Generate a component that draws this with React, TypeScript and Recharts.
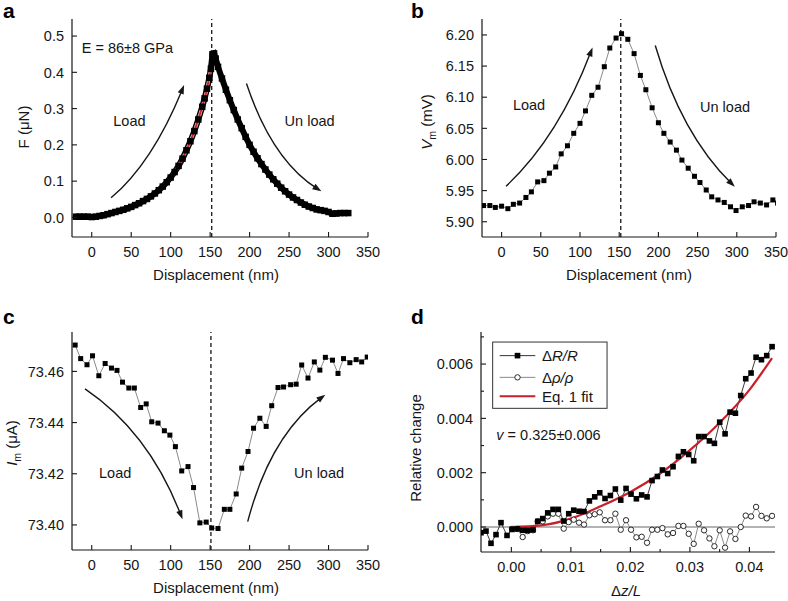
import React from 'react';
import { ComposedChart, Line, XAxis, YAxis, ReferenceLine } from 'recharts';

const FONT = '"Liberation Sans", Arial, Helvetica, sans-serif';
const INK = '#161616';

// ---------------- data: panel a ----------------
const aDisp = [-20, -15, -10, -5, 0, 5, 10, 15, 20, 25, 30, 35, 40, 45, 50, 55, 60, 65, 70, 75, 80, 85, 90, 95, 100, 105, 110, 115, 120, 125, 130, 135, 140, 143, 146, 149, 151, 153, 155, 157, 160, 165, 170, 175, 180, 185, 190, 195, 200, 205, 210, 215, 220, 225, 230, 235, 240, 245, 250, 255, 260, 265, 270, 275, 280, 285, 290, 295, 300, 305, 310, 315, 320, 325];
const aForce = [0.002, 0.002, 0.002, 0.002, 0.001, 0.002, 0.004, 0.006, 0.009, 0.012, 0.015, 0.018, 0.021, 0.025, 0.029, 0.034, 0.039, 0.045, 0.051, 0.058, 0.066, 0.075, 0.085, 0.097, 0.110, 0.125, 0.142, 0.162, 0.185, 0.210, 0.238, 0.270, 0.305, 0.328, 0.355, 0.385, 0.410, 0.450, 0.452, 0.438, 0.415, 0.383, 0.352, 0.323, 0.296, 0.270, 0.246, 0.222, 0.200, 0.181, 0.163, 0.147, 0.132, 0.118, 0.105, 0.093, 0.082, 0.072, 0.063, 0.055, 0.048, 0.041, 0.035, 0.030, 0.026, 0.022, 0.020, 0.018, 0.015, 0.010, 0.011, 0.012, 0.012, 0.012];
const aFitDisp = [0, 10, 20, 30, 40, 50, 60, 70, 80, 90, 100, 110, 120, 130, 140, 145, 150];
const aFitForce = [0.000, 0.004, 0.009, 0.015, 0.021, 0.029, 0.039, 0.051, 0.066, 0.085, 0.110, 0.142, 0.185, 0.238, 0.305, 0.345, 0.400];

// ---------------- data: panel b ----------------
const bDisp = [-23, -15, -8, 0, 8, 15, 23, 31, 38, 46, 54, 61, 69, 76, 84, 92, 100, 107, 115, 123, 131, 138, 146, 153, 161, 169, 177, 184, 192, 200, 207, 215, 223, 230, 238, 246, 253, 261, 268, 276, 284, 292, 299, 307, 315, 322, 330, 338, 346, 352];
const bVm = [5.926, 5.926, 5.923, 5.925, 5.921, 5.928, 5.930, 5.939, 5.948, 5.964, 5.966, 5.978, 5.988, 6.009, 6.022, 6.042, 6.058, 6.078, 6.103, 6.116, 6.149, 6.179, 6.195, 6.202, 6.193, 6.170, 6.135, 6.112, 6.083, 6.059, 6.042, 6.028, 6.015, 5.999, 5.986, 5.973, 5.963, 5.951, 5.940, 5.935, 5.931, 5.924, 5.918, 5.924, 5.926, 5.932, 5.930, 5.927, 5.935, 5.930];

// ---------------- data: panel c ----------------
const cDisp = [-21, -14, -6, 1, 9, 17, 25, 32, 39, 47, 54, 62, 69, 76, 84, 92, 99, 106, 114, 122, 129, 137, 145, 152, 160, 168, 175, 183, 190, 198, 205, 213, 221, 228, 236, 243, 252, 259, 266, 274, 282, 289, 296, 305, 312, 319, 327, 335, 342, 349];
const cIm = [73.4703, 73.4650, 73.4626, 73.4661, 73.4583, 73.4631, 73.4613, 73.4604, 73.4558, 73.4535, 73.4535, 73.4459, 73.4473, 73.4403, 73.4398, 73.4368, 73.4351, 73.4306, 73.4211, 73.4228, 73.4146, 73.4008, 73.4011, 73.3988, 73.3986, 73.4061, 73.4061, 73.4121, 73.4222, 73.4287, 73.4378, 73.4417, 73.4385, 73.4466, 73.4537, 73.4539, 73.4548, 73.4550, 73.4625, 73.4574, 73.4637, 73.4605, 73.4655, 73.4644, 73.4592, 73.4650, 73.4634, 73.4646, 73.4637, 73.4656];

// ---------------- data: panel d ----------------
const dStrain = [-0.00510, -0.00426, -0.00342, -0.00258, -0.00174, -0.00073, 0.00011, 0.00101, 0.00190, 0.00275, 0.00364, 0.00443, 0.00527, 0.00611, 0.00700, 0.00790, 0.00880, 0.00964, 0.01048, 0.01137, 0.01221, 0.01311, 0.01401, 0.01485, 0.01574, 0.01664, 0.01748, 0.01838, 0.01927, 0.02011, 0.02101, 0.02190, 0.02280, 0.02364, 0.02454, 0.02538, 0.02627, 0.02717, 0.02807, 0.02891, 0.02980, 0.03064, 0.03148, 0.03238, 0.03328, 0.03412, 0.03501, 0.03591, 0.03675, 0.03765, 0.03854, 0.03938, 0.04028, 0.04112, 0.04202, 0.04291, 0.04381];
const dDeltaR = [-0.00021, -0.00015, -0.00060, -0.00028, 0.00016, -0.00031, -0.00009, -0.00007, -0.00012, -0.00012, -0.00010, 0.00021, 0.00031, 0.00052, 0.00065, 0.00065, 0.00022, 0.00049, 0.00062, 0.00058, 0.00057, 0.00096, 0.00111, 0.00126, 0.00105, 0.00116, 0.00140, 0.00099, 0.00142, 0.00121, 0.00104, 0.00118, 0.00111, 0.00171, 0.00186, 0.00210, 0.00197, 0.00222, 0.00260, 0.00277, 0.00267, 0.00244, 0.00333, 0.00333, 0.00317, 0.00308, 0.00386, 0.00343, 0.00423, 0.00419, 0.00484, 0.00546, 0.00567, 0.00625, 0.00616, 0.00631, 0.00664];
const dStrainRho = [0.00011, 0.00101, 0.00190, 0.00275, 0.00364, 0.00443, 0.00527, 0.00611, 0.00700, 0.00790, 0.00880, 0.00964, 0.01048, 0.01137, 0.01221, 0.01311, 0.01401, 0.01485, 0.01574, 0.01664, 0.01748, 0.01838, 0.01927, 0.02011, 0.02101, 0.02190, 0.02280, 0.02364, 0.02454, 0.02538, 0.02627, 0.02717, 0.02807, 0.02891, 0.02980, 0.03064, 0.03148, 0.03238, 0.03328, 0.03412, 0.03501, 0.03591, 0.03675, 0.03765, 0.03854, 0.03938, 0.04028, 0.04112, 0.04202, 0.04291, 0.04381];
const dDeltaRho = [-0.00007, -0.00007, -0.00037, -0.00015, -0.00012, 0.00021, 0.00021, 0.00039, 0.00049, 0.00049, -0.00006, 0.00018, 0.00027, 0.00016, 0.00009, 0.00043, 0.00047, 0.00054, 0.00025, 0.00025, 0.00049, -0.00010, 0.00025, -0.00010, -0.00038, -0.00036, -0.00058, -0.00010, -0.00010, -0.00004, -0.00027, -0.00022, 0.00004, 0.00004, -0.00025, -0.00062, 0.00012, -0.00012, -0.00042, -0.00071, -0.00012, -0.00076, -0.00016, -0.00044, 0.00000, 0.00042, 0.00039, 0.00074, 0.00041, 0.00032, 0.00041];
const dFitStrain = [0.000, 0.005, 0.010, 0.015, 0.020, 0.025, 0.030, 0.035, 0.040, 0.0438];
const dFitValue = [0.00000, 0.00006, 0.00031, 0.00076, 0.00129, 0.00197, 0.00283, 0.00384, 0.00505, 0.00622];

// ---------------- ticks ----------------
const dispTicks = [0, 50, 100, 150, 200, 250, 300, 350];
const aForceTicks = [0, 0.1, 0.2, 0.3, 0.4, 0.5];
const bVmTicks = [5.90, 5.95, 6.00, 6.05, 6.10, 6.15, 6.20];
const cImTicks = [73.40, 73.42, 73.44, 73.46];
const dStrainMajor = [0, 0.01, 0.02, 0.03, 0.04];
const dStrainAll = [0, 0.005, 0.01, 0.015, 0.02, 0.025, 0.03, 0.035, 0.04];
const dRelMajor = [0, 0.002, 0.004, 0.006];
const dRelAll = [0, 0.001, 0.002, 0.003, 0.004, 0.005, 0.006, 0.007];

const rows = (xs: number[], ys: number[]) => xs.map((x, i) => ({ x, y: ys[i] }));

type Box = { x: number; y: number; w: number; h: number };
type Frame = { l: number; r: number; t: number; b: number };

const AXIS = { stroke: INK, strokeWidth: 1.2 };

const makeTick = (side: string, majors: number[], fmt: ((v: number) => string) | null, gap: number) => (props: any) => {
  const { x, y, payload, index } = props;
  const v = payload.value;
  const major = majors.some((m) => Math.abs(m - v) < 1e-9);
  const len = major ? 5 : 3;
  const k = `t-${side}-${index}`;
  const txt = { fontFamily: FONT, fontSize: 14.5, fill: INK } as any;
  if (side === 'bottom') {
    const ay = y - gap;
    return (
      <g key={k}>
        <line x1={x} x2={x} y1={ay} y2={ay - len} stroke={INK} strokeWidth={1.1} />
        {major && fmt ? <text x={x} y={y} dy="0.71em" textAnchor="middle" {...txt}>{fmt(v)}</text> : null}
      </g>
    );
  }
  if (side === 'top') {
    return <g key={k}><line x1={x} x2={x} y1={y} y2={y + len} stroke={INK} strokeWidth={1.1} /></g>;
  }
  if (side === 'left') {
    const ax = x + gap;
    return (
      <g key={k}>
        <line x1={ax} x2={ax + len} y1={y} y2={y} stroke={INK} strokeWidth={1.1} />
        {major && fmt ? <text x={x} y={y} dy="0.36em" textAnchor="end" {...txt}>{fmt(v)}</text> : null}
      </g>
    );
  }
  return <g key={k}><line x1={x} x2={x - len} y1={y} y2={y} stroke={INK} strokeWidth={1.1} /></g>;
};

const squareDot = (size: number, fill: string) => (p: any) => {
  const key = `sq-${p.index}`;
  if (p.cx == null || p.cy == null) return <g key={key} />;
  return <rect key={key} x={p.cx - size / 2} y={p.cy - size / 2} width={size} height={size} fill={fill} />;
};
const circleDot = (p: any) => {
  const key = `ci-${p.index}`;
  if (p.cx == null || p.cy == null) return <g key={key} />;
  return <circle key={key} cx={p.cx} cy={p.cy} r={2.7} fill="#fff" stroke="#2a2a2a" strokeWidth={1} />;
};

const mapper = (box: Box, frame: Frame, xd: number[], yd: number[]) => ({
  px: (v: number) => frame.l - box.x + ((v - xd[0]) / (xd[1] - xd[0])) * (frame.r - frame.l),
  py: (v: number) => frame.t - box.y + ((yd[1] - v) / (yd[1] - yd[0])) * (frame.b - frame.t),
});

type Mapper = ReturnType<typeof mapper>;

function Arrow({ m, p0, pm, p1 }: { m: Mapper; p0: number[]; pm: number[]; p1: number[] }) {
  const a = [m.px(p0[0]), m.py(p0[1])];
  const mid = [m.px(pm[0]), m.py(pm[1])];
  const b = [m.px(p1[0]), m.py(p1[1])];
  const c = [2 * mid[0] - (a[0] + b[0]) / 2, 2 * mid[1] - (a[1] + b[1]) / 2];
  let dx = b[0] - c[0];
  let dy = b[1] - c[1];
  const n = Math.hypot(dx, dy) || 1;
  dx /= n; dy /= n;
  const hl = 9, hw = 3.2;
  const base = [b[0] - dx * hl, b[1] - dy * hl];
  const endLine = [b[0] - dx * 5, b[1] - dy * 5];
  const head = `M${b[0]},${b[1]} L${base[0] - dy * hw},${base[1] + dx * hw} L${base[0] + dy * hw},${base[1] - dx * hw} Z`;
  return (
    <g>
      <path d={`M${a[0]},${a[1]} Q${c[0]},${c[1]} ${endLine[0]},${endLine[1]}`} fill="none" stroke={INK} strokeWidth={1.4} />
      <path d={head} fill={INK} />
    </g>
  );
}

const TXT = { fontFamily: FONT, fontSize: 14.5, fill: INK } as any;

function Panel(props: {
  box: Box; frame: Frame; xd: number[]; yd: number[];
  xTicks: number[]; xMajors: number[]; xFmt: (v: number) => string;
  yTicks: number[]; yMajors: number[]; yFmt: (v: number) => string;
  children: React.ReactNode; overlay: React.ReactNode;
}) {
  const { box, frame, xd, yd } = props;
  const margin = { top: frame.t - box.y, right: box.x + box.w - frame.r, left: 0, bottom: 0 };
  const yW = frame.l - box.x;
  const xH = box.y + box.h - frame.b;
  return (
    <div style={{ position: 'absolute', left: box.x, top: box.y, width: box.w, height: box.h }}>
      <ComposedChart width={box.w} height={box.h} margin={margin}>
        <XAxis type="number" dataKey="x" domain={xd} allowDataOverflow ticks={props.xTicks} interval={0}
          height={xH} tickSize={0} tickMargin={10} tickLine={false} axisLine={AXIS}
          tick={makeTick('bottom', props.xMajors, props.xFmt, 10)} />
        <XAxis xAxisId="top" orientation="top" type="number" domain={xd} allowDataOverflow ticks={props.xTicks} interval={0}
          height={0} tickSize={0} tickMargin={0} tickLine={false} axisLine={AXIS}
          tick={makeTick('top', props.xMajors, null, 0)} />
        <YAxis type="number" domain={yd} allowDataOverflow ticks={props.yTicks} interval={0}
          width={yW} tickSize={0} tickMargin={8} tickLine={false} axisLine={AXIS}
          tick={makeTick('left', props.yMajors, props.yFmt, 8)} />
        <YAxis yAxisId="right" orientation="right" type="number" domain={yd} allowDataOverflow ticks={props.yTicks} interval={0}
          width={0} tickSize={0} tickMargin={0} tickLine={false} axisLine={AXIS}
          tick={makeTick('right', props.yMajors, null, 0)} />
        {props.children}
      </ComposedChart>
      <svg width={box.w} height={box.h} style={{ position: 'absolute', left: 0, top: 0, pointerEvents: 'none' }}>
        {props.overlay}
      </svg>
    </div>
  );
}

const fmtInt = (v: number) => String(Math.round(v));

// ---------- layout ----------
const boxA: Box = { x: 0, y: 0, w: 394, h: 300 };
const frameA: Frame = { l: 72, r: 368, t: 19, b: 237 };
const boxB: Box = { x: 394, y: 0, w: 394, h: 300 };
const frameB: Frame = { l: 482, r: 776, t: 19, b: 237 };
const boxC: Box = { x: 0, y: 300, w: 394, h: 301 };
const frameC: Frame = { l: 72, r: 368, t: 332, b: 550 };
const boxD: Box = { x: 394, y: 300, w: 394, h: 301 };
const frameD: Frame = { l: 481, r: 775, t: 332, b: 552 };

const xdDisp = [-25, 350];
const ydA = [-0.054, 0.547];
const ydB = [5.8755, 6.2256];
const ydC = [73.3902, 73.4754];
const xdD = [-0.0051, 0.0443];
const ydD = [-0.00092, 0.00718];

const letterStyle = { fontFamily: FONT, fontSize: 21, fontWeight: 700, fill: '#000' } as any;
const titleStyle = { fontFamily: FONT, fontSize: 15, fill: INK } as any;

function PanelA() {
  const m = mapper(boxA, frameA, xdDisp, ydA);
  const overlay = (
    <g>
      <text x={3} y={18} {...letterStyle}>a</text>
      <text transform="rotate(-90 24 127)" x={24} y={127} dy="0.36em" textAnchor="middle" {...titleStyle}>F (μN)</text>
      <text x={216} y={275} dy="0.36em" textAnchor="middle" {...titleStyle}>Displacement (nm)</text>
      <text x={m.px(-12.7)} y={m.py(0.468)} dy="0.36em" {...TXT}>E = 86±8 GPa</text>
      <text x={m.px(47.7)} y={m.py(0.266)} dy="0.36em" textAnchor="middle" {...TXT}>Load</text>
      <text x={m.px(276)} y={m.py(0.266)} dy="0.36em" textAnchor="middle" {...TXT}>Un load</text>
      <Arrow m={m} p0={[24.5, 0.054]} pm={[73.8, 0.180]} p1={[117, 0.365]} />
      <Arrow m={m} p0={[196, 0.369]} pm={[236, 0.189]} p1={[291, 0.072]} />
    </g>
  );
  return (
    <Panel box={boxA} frame={frameA} xd={xdDisp} yd={ydA}
      xTicks={dispTicks} xMajors={dispTicks} xFmt={fmtInt}
      yTicks={aForceTicks} yMajors={aForceTicks} yFmt={(v) => v.toFixed(1)} overlay={overlay}>
      <ReferenceLine x={152} stroke={INK} strokeWidth={1.3} strokeDasharray="4 3" />
      <Line data={rows(aDisp, aForce)} dataKey="y" type="linear" stroke="#000" strokeWidth={6}
        dot={squareDot(6.5, '#000')} isAnimationActive={false} />
      <Line data={rows(aFitDisp, aFitForce)} dataKey="y" type="monotone" stroke="#f0b0b0" strokeWidth={3.2}
        dot={false} isAnimationActive={false} />
      <Line data={rows(aFitDisp, aFitForce)} dataKey="y" type="monotone" stroke="#c8202a" strokeWidth={1.8}
        dot={false} isAnimationActive={false} />
    </Panel>
  );
}

function PanelB() {
  const m = mapper(boxB, frameB, xdDisp, ydB);
  const overlay = (
    <g>
      <text x={17} y={18} {...letterStyle}>b</text>
      <text transform="rotate(-90 33 122)" x={33} y={122} dy="0.36em" textAnchor="middle" {...titleStyle}>
        <tspan fontStyle="italic">V</tspan><tspan fontSize={10.5} dy={4}>m</tspan><tspan dy={-4}> (mV)</tspan>
      </text>
      <text x={235} y={275} dy="0.36em" textAnchor="middle" {...titleStyle}>Displacement (nm)</text>
      <text x={m.px(35)} y={m.py(6.088)} dy="0.36em" textAnchor="middle" {...TXT}>Load</text>
      <text x={m.px(285)} y={m.py(6.085)} dy="0.36em" textAnchor="middle" {...TXT}>Un load</text>
      <Arrow m={m} p0={[5.6, 5.957]} pm={[66.6, 6.052]} p1={[116, 6.180]} />
      <Arrow m={m} p0={[196, 6.183]} pm={[238, 6.055]} p1={[297.5, 5.956]} />
    </g>
  );
  return (
    <Panel box={boxB} frame={frameB} xd={xdDisp} yd={ydB}
      xTicks={dispTicks} xMajors={dispTicks} xFmt={fmtInt}
      yTicks={bVmTicks} yMajors={bVmTicks} yFmt={(v) => v.toFixed(2)} overlay={overlay}>
      <ReferenceLine x={152} stroke={INK} strokeWidth={1.3} strokeDasharray="4 3" />
      <Line data={rows(bDisp, bVm)} dataKey="y" type="linear" stroke="#8a8a8a" strokeWidth={1}
        dot={squareDot(5, '#000')} isAnimationActive={false} />
    </Panel>
  );
}

function PanelC() {
  const m = mapper(boxC, frameC, xdDisp, ydC);
  const overlay = (
    <g>
      <text x={3} y={24} {...letterStyle}>c</text>
      <text transform="rotate(-90 12 143)" x={12} y={143} dy="0.36em" textAnchor="middle" {...titleStyle}>
        <tspan fontStyle="italic">I</tspan><tspan fontSize={10.5} dy={4}>m</tspan><tspan dy={-4}> (μA)</tspan>
      </text>
      <text x={216} y={288} dy="0.36em" textAnchor="middle" {...titleStyle}>Displacement (nm)</text>
      <text x={m.px(29.7)} y={m.py(73.4202)} dy="0.36em" textAnchor="middle" {...TXT}>Load</text>
      <text x={m.px(288)} y={m.py(73.4202)} dy="0.36em" textAnchor="middle" {...TXT}>Un load</text>
      <Arrow m={m} p0={[-8.5, 73.4532]} pm={[62.8, 73.4320]} p1={[115, 73.4022]} />
      <Arrow m={m} p0={[197.6, 73.4013]} pm={[236.6, 73.4306]} p1={[296, 73.4509]} />
    </g>
  );
  return (
    <Panel box={boxC} frame={frameC} xd={xdDisp} yd={ydC}
      xTicks={dispTicks} xMajors={dispTicks} xFmt={fmtInt}
      yTicks={cImTicks} yMajors={cImTicks} yFmt={(v) => v.toFixed(2)} overlay={overlay}>
      <ReferenceLine x={151} stroke={INK} strokeWidth={1.3} strokeDasharray="4 3" />
      <Line data={rows(cDisp, cIm)} dataKey="y" type="linear" stroke="#8a8a8a" strokeWidth={1}
        dot={squareDot(5, '#000')} isAnimationActive={false} />
    </Panel>
  );
}

function PanelD() {
  const m = mapper(boxD, frameD, xdD, ydD);
  const lx0 = m.px(-0.00314), lx1 = m.px(0.01608);
  const ly0 = m.py(0.00681), ly1 = m.py(0.00437);
  const s0 = m.px(-0.00196), s1 = m.px(0.00403), sm = (s0 + s1) / 2;
  const tx = m.px(0.00515);
  const r1 = m.py(0.00631), r2 = m.py(0.00551), r3 = m.py(0.00481);
  const legTxt = { fontFamily: FONT, fontSize: 15, fill: INK } as any;
  const overlay = (
    <g>
      <text x={17} y={24} {...letterStyle}>d</text>
      <text transform="rotate(-90 22 148)" x={22} y={148} dy="0.36em" textAnchor="middle" {...titleStyle}>Relative change</text>
      <text x={232} y={291} dy="0.36em" textAnchor="middle" {...titleStyle}>
        <tspan>Δ</tspan><tspan fontStyle="italic">z/L</tspan>
      </text>
      <rect x={lx0} y={ly0} width={lx1 - lx0} height={ly1 - ly0} fill="#fff" stroke="#333" strokeWidth={1} />
      <line x1={s0} x2={s1} y1={r1} y2={r1} stroke="#333" strokeWidth={1} />
      <rect x={sm - 2.8} y={r1 - 2.8} width={5.6} height={5.6} fill="#000" />
      <line x1={s0} x2={s1} y1={r2} y2={r2} stroke="#888" strokeWidth={1} />
      <circle cx={sm} cy={r2} r={2.7} fill="#fff" stroke="#2a2a2a" strokeWidth={1} />
      <line x1={s0} x2={s1} y1={r3} y2={r3} stroke="#c8202a" strokeWidth={2} />
      <text x={tx} y={r1} dy="0.36em" {...legTxt}>Δ<tspan fontStyle="italic">R/R</tspan></text>
      <text x={tx} y={r2} dy="0.36em" {...legTxt}>Δ<tspan fontStyle="italic">ρ/ρ</tspan></text>
      <text x={tx} y={r3} dy="0.36em" {...legTxt}>Eq. 1 fit</text>
      <text x={m.px(-0.00252)} y={m.py(0.00339)} dy="0.36em" {...TXT}><tspan fontStyle="italic">v</tspan> = 0.325±0.006</text>
    </g>
  );
  return (
    <Panel box={boxD} frame={frameD} xd={xdD} yd={ydD}
      xTicks={dStrainAll} xMajors={dStrainMajor} xFmt={(v) => v.toFixed(2)}
      yTicks={dRelAll} yMajors={dRelMajor} yFmt={(v) => v.toFixed(3)} overlay={overlay}>
      <ReferenceLine y={0} stroke="#9a9a9a" strokeWidth={1.5} />
      <Line data={rows(dStrainRho, dDeltaRho)} dataKey="y" type="linear" stroke="#8a8a8a" strokeWidth={1}
        dot={circleDot} isAnimationActive={false} />
      <Line data={rows(dStrain, dDeltaR)} dataKey="y" type="linear" stroke="#3a3a3a" strokeWidth={1}
        dot={squareDot(5.6, '#000')} isAnimationActive={false} />
      <Line data={rows(dFitStrain, dFitValue)} dataKey="y" type="monotone" stroke="#c8202a" strokeWidth={2.2}
        dot={false} isAnimationActive={false} />
    </Panel>
  );
}

export default function App() {
  return (
    <div style={{ position: 'absolute', left: 0, top: 0, width: 788, height: 601, background: '#fff', overflow: 'hidden' }}>
      <PanelA />
      <PanelB />
      <PanelC />
      <PanelD />
    </div>
  );
}
